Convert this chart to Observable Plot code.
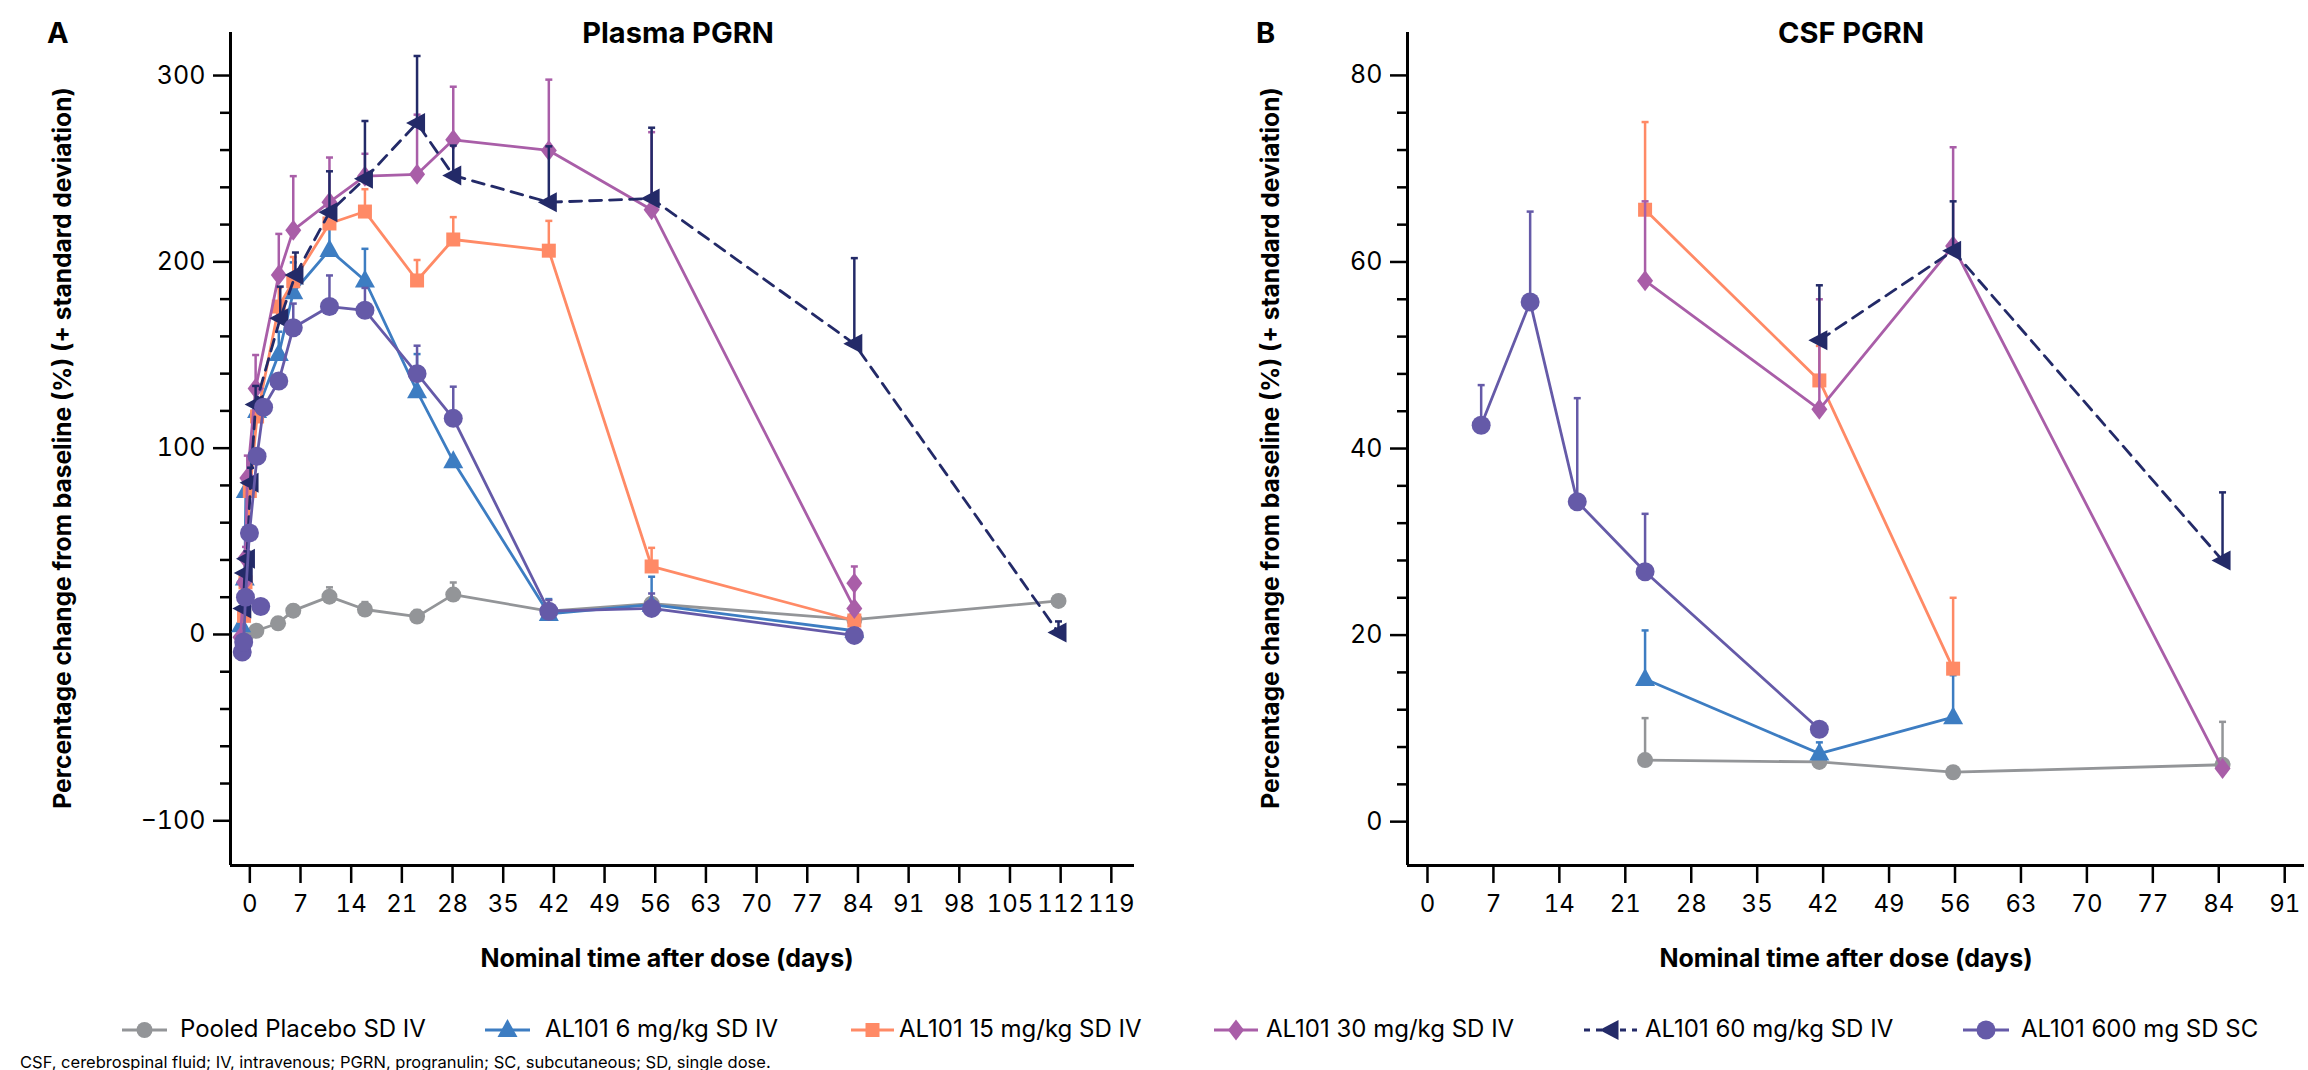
<!DOCTYPE html>
<html>
<head>
<meta charset="utf-8">
<script src="https://cdn.jsdelivr.net/npm/d3@7"></script>
<script src="https://cdn.jsdelivr.net/npm/@observablehq/plot@0.6"></script>
<style>
  html, body { margin: 0; padding: 0; background: #fff; }
  body { width: 2308px; height: 1070px; overflow: hidden; font-family: Inter, "Liberation Sans", sans-serif; color: #000; }
  #root { position: relative; width: 2308px; height: 1070px; }
  .abs { position: absolute; white-space: nowrap; line-height: 1; }
</style>
</head>
<body>
<div id="root"></div>
<script>
// ===================== DATA =====================
const seriesLabels = [
  "Pooled Placebo SD IV",
  "AL101 6 mg/kg SD IV",
  "AL101 15 mg/kg SD IV",
  "AL101 30 mg/kg SD IV",
  "AL101 60 mg/kg SD IV",
  "AL101 600 mg SD SC"
];
const seriesColors = ["#939598", "#3d7dc2", "#ff8a66", "#a95ea8", "#232a68", "#655aa8"];

// Plasma PGRN: [nominal day, mean % change, SD (null = no bar), segment]
const plasmaPlacebo = [[-0.65,-2,null],[0.9,2,null],[3.9,6,null],[6.0,12.8,3],[11.0,20.3,5],[15.9,13.4,4],[23.1,9.6,3.5],[28.1,21.4,6.5],[41.3,12.5,null],[55.5,16.5,null],[83.5,8,null],[111.7,18,null]];
const plasma6 = [[-1.2,5,null],[-0.7,30,null],[-0.55,77,4],[1.0,120,5],[4.0,150.5,12],[6.0,183.7,16],[11.0,206.4,14],[15.9,190,17],[23.1,130.5,20],[28.1,93,null],[41.3,11,8],[55.5,16,15],[83.5,2,null]];
const plasma15 = [[-0.8,10,null],[-0.6,28,null],[0.0,77,5],[1.0,117,6],[4.0,176,10],[6.0,189.6,13],[11.0,220.6,12],[15.9,227,12],[23.1,190,11],[28.1,212,12],[41.3,206,16],[55.5,36.5,10],[83.5,7.5,null]];
const plasma30 = [[-1.3,-1.5,null],[-0.8,28,5],[-0.6,41,6],[-0.35,84,12],[0.8,132,18],[4.0,193,22],[6.0,217,29],[11.0,232,24],[15.9,246,12],[23.1,247,32],[28.1,265.5,28.5],[41.3,259.8,38],[55.5,228,41.6],[83.5,14,null],[83.5,27.5,9]];
const plasma60 = [[-0.9,14,null],[-0.7,33,null],[-0.4,40.6,4],[0.1,81.5,8],[0.8,123.4,10],[4.2,169.7,17],[6.3,193,12],[11.0,226.6,22],[15.9,244.6,31],[23.1,274.5,36],[28.1,246.4,16],[41.3,232,30],[55.5,234,38],[83.5,156,46],[111.7,1,6]];
const plasmaSC = [[1.5,15,null,1],[-1.05,-9.4,null],[-0.85,-4,null],[-0.6,20,null],[-0.05,54.5,null],[1.0,95.7,null],[1.9,122,null],[4.0,136,null],[6.0,164.6,13],[11.0,176,16.7],[15.9,174,12],[23.1,140,15],[28.1,116,17],[41.3,12.5,6],[55.5,14,8],[83.5,-0.5,null]];

// CSF PGRN
const csfPlacebo = [[23.1,6.6,4.5],[41.6,6.4,null],[55.8,5.3,null],[84.4,6.1,4.6]];
const csf6 = [[23.1,15.3,5.2],[41.6,7.3,1.2],[55.8,11.2,4.5]];
const csf15 = [[23.1,65.6,9.4],[41.6,47.3,3.7],[55.8,16.4,7.6]];
const csf30 = [[23.1,58,8.5],[41.6,44.2,11.8],[55.8,61.7,10.6],[84.4,5.7,null]];
const csf60 = [[41.6,51.6,5.9],[55.8,61.2,5.3],[84.4,28,7.3]];
const csfSC = [[5.7,42.5,4.3],[10.9,55.7,9.7],[15.9,34.3,11.1],[23.1,26.8,6.2],[41.6,9.9,null]];

// Tick labels
const plasmaXTicks = [0,7,14,21,28,35,42,49,56,63,70,77,84,91,98,105,112,119];
const plasmaYTicks = [-100,0,100,200,300];
const plasmaYMinor = [-80,-60,-40,-20,20,40,60,80,120,140,160,180,220,240,260,280];
const csfXTicks = [0,7,14,21,28,35,42,49,56,63,70,77,84,91];
const csfYTicks = [0,20,40,60,80];
const csfYMinor = [4,8,12,16,24,28,32,36,44,48,52,56,64,68,72,76];

// ===================== DRAWING =====================
const root = document.getElementById("root");
const FONT = "Inter, 'Liberation Sans', sans-serif";

const circleSym = R => ({draw(c) { c.moveTo(R, 0); c.arc(0, 0, R, 0, 2 * Math.PI); c.closePath(); }});
const SYMBOLS = [
  circleSym(8),
  {draw(c) { c.moveTo(0, -11); c.lineTo(10, 7); c.lineTo(-10, 7); c.closePath(); }},
  {draw(c) { c.rect(-7, -7, 14, 14); }},
  {draw(c) { c.moveTo(0, -10.5); c.lineTo(8, 0); c.lineTo(0, 10.5); c.lineTo(-8, 0); c.closePath(); }},
  {draw(c) { c.moveTo(-11, 0); c.lineTo(8, -10); c.lineTo(8, 10); c.closePath(); }},
  circleSym(9.5)
];
const capSym = {draw(c) { c.moveTo(-3.5, 0); c.lineTo(3.5, 0); }};

function makePanel(cfg) {
  const marks = [
    Plot.axisY(cfg.yMinor, {anchor: "left", tickSize: 10, tickFormat: () => "", strokeWidth: 2.5, label: null}),
    Plot.axisY(cfg.yTicks, {anchor: "left", tickSize: 17, tickPadding: 8, fontSize: 25, strokeWidth: 2.5, label: null}),
    Plot.axisX(cfg.xTicks, {anchor: "bottom", tickSize: 18, tickPadding: 11, fontSize: 24, strokeWidth: 2.5, label: null}),
    Plot.ruleX([cfg.xDomain[0]], {stroke: "#000", strokeWidth: 3}),
    Plot.ruleY([cfg.yDomain[0]], {stroke: "#000", strokeWidth: 3})
  ];
  cfg.series.forEach((arr, i) => {
    const rows = arr.map(([day, mean, sd, seg]) => ({day, mean, upper: sd == null ? null : mean + sd, g: seg || 0}));
    const bars = rows.filter(d => d.upper != null);
    const color = seriesColors[i];
    marks.push(Plot.ruleX(bars, {x: "day", y1: "mean", y2: "upper", stroke: color, strokeWidth: 2.5}));
    marks.push(Plot.dot(bars, {x: "day", y: "upper", symbol: capSym, fill: "none", stroke: color, strokeWidth: 2.5, r: 4}));
    const lineOpts = {x: "day", y: "mean", z: "g", stroke: color, strokeWidth: 2.8};
    if (i === 4) lineOpts.strokeDasharray = "12,8";
    marks.push(Plot.line(rows, lineOpts));
    marks.push(Plot.dot(rows, {x: "day", y: "mean", symbol: SYMBOLS[i], fill: color, stroke: "none", r: 6}));
  });
  const svg = Plot.plot({
    width: cfg.width, height: cfg.height,
    marginTop: 32, marginBottom: cfg.height - 865, marginLeft: cfg.ml, marginRight: cfg.mr,
    style: {fontFamily: FONT, color: "#000", background: "transparent", overflow: "visible"},
    x: {domain: cfg.xDomain},
    y: {domain: cfg.yDomain},
    marks
  });
  const wrap = document.createElement("div");
  wrap.className = "abs";
  wrap.style.left = cfg.left + "px";
  wrap.style.top = "0px";
  wrap.appendChild(svg);
  root.appendChild(wrap);
}

makePanel({
  left: 0, width: 1160, height: 1000, ml: 230, mr: 26,
  xDomain: [-2.67, 122.2], yDomain: [-124, 323.1],
  xTicks: plasmaXTicks, yTicks: plasmaYTicks, yMinor: plasmaYMinor,
  series: [plasmaPlacebo, plasma6, plasma15, plasma30, plasma60, plasmaSC]
});
makePanel({
  left: 1180, width: 1128, height: 1000, ml: 227, mr: 4,
  xDomain: [-2.12, 93.1], yDomain: [-4.7, 84.6],
  xTicks: csfXTicks, yTicks: csfYTicks, yMinor: csfYMinor,
  series: [csfPlacebo, csf6, csf15, csf30, csf60, csfSC]
});

function label(text, x, y, o = {}) {
  const d = document.createElement("div");
  d.className = "abs";
  d.textContent = text;
  d.style.fontSize = (o.size || 24) + "px";
  d.style.fontWeight = o.weight || 400;
  d.style.left = x + "px";
  d.style.top = y + "px";
  const anchor = o.anchor || "middle";
  const tx = anchor === "middle" ? "-50%" : anchor === "end" ? "-100%" : "0";
  d.style.transform = `translate(${tx},-50%)` + (o.rotate ? " rotate(-90deg)" : "");
  root.appendChild(d);
  return d;
}

label("A", 47, 32, {size: 29, weight: 700, anchor: "start"});
label("Plasma PGRN", 678, 32, {size: 29, weight: 700});
label("B", 1256, 32, {size: 29, weight: 700, anchor: "start"});
label("CSF PGRN", 1851, 32, {size: 29, weight: 700});
const yTitle = "Percentage change from baseline (%) (+ standard deviation)";
label(yTitle, 62, 448, {size: 24.5, weight: 700, rotate: true});
label(yTitle, 1270, 448, {size: 24.5, weight: 700, rotate: true});
label("Nominal time after dose (days)", 667, 958, {size: 25, weight: 700});
label("Nominal time after dose (days)", 1846, 958, {size: 25, weight: 700});

// Legend
const legendPos = [[122, 45, 180], [485, 45, 545], [851, 43, 899], [1214, 44, 1266], [1584, 53, 1645], [1963, 46, 2021]];
seriesLabels.forEach((name, i) => {
  const [lx, lw, tx] = legendPos[i];
  const p = d3.path(); SYMBOLS[i].draw(p, 0);
  const ns = "http://www.w3.org/2000/svg";
  const s = document.createElementNS(ns, "svg");
  s.setAttribute("width", lw); s.setAttribute("height", 26);
  s.style.position = "absolute"; s.style.left = lx + "px"; s.style.top = (1030 - 13) + "px";
  s.style.overflow = "visible";
  const ln = document.createElementNS(ns, "line");
  ln.setAttribute("x1", 0); ln.setAttribute("x2", lw); ln.setAttribute("y1", 13); ln.setAttribute("y2", 13);
  ln.setAttribute("stroke", seriesColors[i]); ln.setAttribute("stroke-width", 3);
  if (i === 4) ln.setAttribute("stroke-dasharray", "6,6");
  s.appendChild(ln);
  const g = document.createElementNS(ns, "path");
  g.setAttribute("d", p.toString());
  g.setAttribute("transform", `translate(${lw / 2},13)`);
  g.setAttribute("fill", seriesColors[i]);
  s.appendChild(g);
  root.appendChild(s);
  label(name, tx, 1029, {size: 24, anchor: "start"});
});

label("CSF, cerebrospinal fluid; IV, intravenous; PGRN, progranulin; SC, subcutaneous; SD, single dose.", 20, 1062, {size: 16.5, anchor: "start"});
</script>
</body>
</html>
